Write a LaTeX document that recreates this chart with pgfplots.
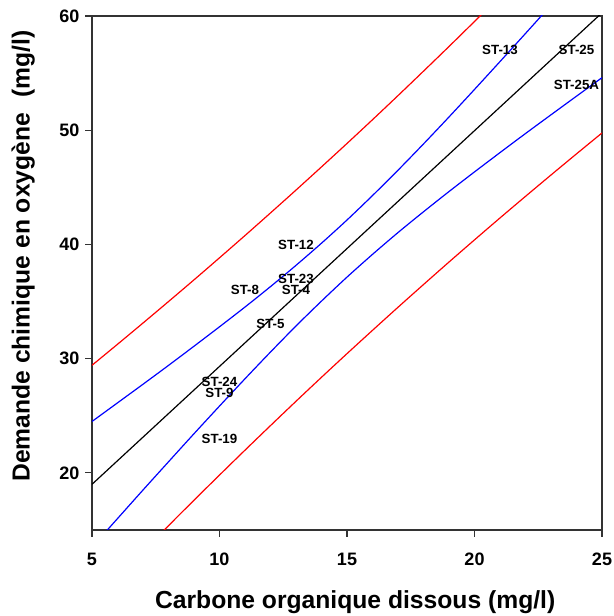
\documentclass[border=0pt]{standalone}
\usepackage{fontspec}
\setmainfont{Liberation Sans}
\usepackage{pgfplots}
\usepackage{pgfplotstable}
\pgfplotsset{compat=1.18}
\usetikzlibrary{calc}

% fitted line and bands
\pgfplotstableread{
x    bup    blo    rup    rlo
5    24.50  13.50  29.42  8.58
6    26.13  16.00  31.26  10.87
7    27.76  18.50  33.12  13.14
8    29.41  20.97  35.00  15.38
9    31.09  23.43  36.90  17.61
10   32.79  25.85  38.83  19.81
11   34.52  28.24  40.78  21.99
12   36.31  30.58  42.76  24.14
13   38.17  32.86  44.76  26.27
14   40.11  35.04  46.79  28.37
15   42.14  37.14  48.84  30.44
16   44.28  39.13  50.92  32.48
17   46.50  41.04  53.03  34.50
18   48.80  42.86  55.17  36.49
19   51.16  44.63  57.33  38.46
20   53.57  46.35  59.52  40.40
21   56.01  48.04  61.73  42.32
22   58.47  49.71  63.96  44.21
23   60.95  51.35  66.23  46.08
24   63.45  52.98  68.50  47.93
25   65.96  54.60  70.80  49.76
}\bands

\pgfplotstableread{
x   y   label
13  40  ST-12
13  37  ST-23
11  36  ST-8
13  36  ST-4
12  33  ST-5
10  28  ST-24
10  27  ST-9
10  23  ST-19
21  57  ST-13
24  57  ST-25
24  54  ST-25A
}\labels

\begin{document}
\begin{tikzpicture}
\begin{axis}[
  name=ax,
  scale only axis,
  width=382.5pt, height=385.5pt,
  xmin=5, xmax=25, ymin=15, ymax=60,
  xtick={5,10,15,20,25},
  ytick={20,30,40,50,60},
  minor tick num=0,
  tick align=outside,
  xtick pos=bottom, ytick pos=left,
  major tick length=5pt,
  tick style={black!80, line width=0.9pt},
  axis line style={black!80, line width=1.1pt},
  /pgf/number format/assume math mode=true,
  ticklabel style={font=\bfseries\fontsize{13.5}{14}\selectfont},
  xticklabel style={yshift=-8.5pt},
  yticklabel style={xshift=-1pt},
  xlabel={Carbone organique dissous (mg/l)},
  ylabel={Demande chimique en oxygène\hspace{0.35em} (mg/l)},
  label style={font=\bfseries\fontsize{18.5}{20}\selectfont},
  xlabel style={at={(axis description cs:0.516,-0.14)}, anchor=center},
  ylabel style={at={(axis description cs:-0.135,0.533)}, anchor=center},
  clip=true,
]
\addplot[red, line width=0.9pt, smooth] table[x=x, y=rup] {\bands};
\addplot[red, line width=0.9pt, smooth] table[x=x, y=rlo] {\bands};
\addplot[blue, line width=0.9pt, smooth] table[x=x, y=bup] {\bands};
\addplot[blue, line width=0.9pt, smooth] table[x=x, y=blo] {\bands};
\addplot[black, line width=0.9pt] coordinates {(5,19.00) (25,60.28)};
\addplot[only marks, mark=*, mark options={opacity=0},
  nodes near coords, point meta=explicit symbolic,
  nodes near coords align={center},
  every node near coord/.style={font=\bfseries\fontsize{10}{10}\selectfont, inner sep=0pt, text=black, opacity=1}]
  table[x=x, y=y, meta=label] {\labels};
\end{axis}
\pgfresetboundingbox
\path ($(ax.south west)+(-69pt,-64.5pt)$) rectangle ($(ax.north east)+(8.25pt,12pt)$);
\end{tikzpicture}
\end{document}
